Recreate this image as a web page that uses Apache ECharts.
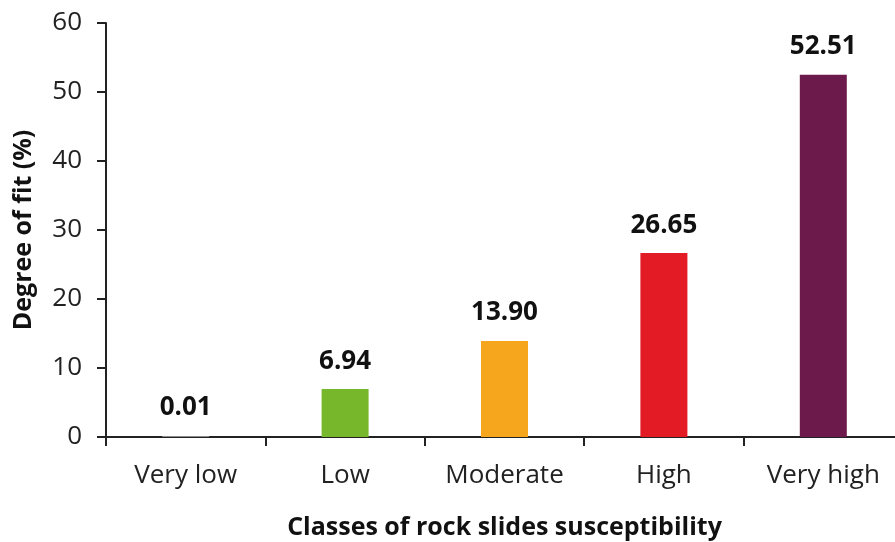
<!DOCTYPE html>
<html><head><meta charset="utf-8">
<script src="https://cdn.jsdelivr.net/npm/echarts@6/dist/echarts.min.js"></script>
<style>html,body{margin:0;padding:0;background:#fff}#c{width:895px;height:542px}</style>
</head><body><div id="c"></div>
<script>
const categories = ['Very low', 'Low', 'Moderate', 'High', 'Very high'];
const values = [0.01, 6.94, 13.90, 26.65, 52.51];
const colors = ['#8c8c8c', '#77b72c', '#f5a61c', '#e21b24', '#6c1a4c'];
const yTicks = [0, 10, 20, 30, 40, 50, 60];

const FONT = 'Open Sans';
const chart = echarts.init(document.getElementById('c'), null, {renderer: 'canvas'});
chart.setOption({
  animation: false,
  backgroundColor: '#fff',
  grid: {left: 106, width: 797, top: 23, height: 414, outerBoundsMode: 'none', containLabel: false},
  xAxis: {
    type: 'category',
    data: categories,
    name: 'Classes of rock slides susceptibility',
    nameLocation: 'middle',
    nameGap: 78,
    nameTextStyle: {fontFamily: FONT, fontWeight: 'bold', fontSize: 25, color: '#111'},
    axisLine: {lineStyle: {color: '#222', width: 2}},
    axisTick: {show: true, length: 9, lineStyle: {color: '#222', width: 2}, alignWithLabel: false},
    axisLabel: {fontFamily: FONT, fontSize: 26, color: '#222', margin: 26}
  },
  yAxis: {
    type: 'value',
    min: yTicks[0], max: yTicks[yTicks.length - 1], interval: 10,
    name: 'Degree of fit (%)',
    nameLocation: 'middle',
    nameGap: 70,
    nameRotate: 90,
    nameTextStyle: {fontFamily: FONT, fontWeight: 'bold', fontSize: 25, color: '#111'},
    axisLine: {show: true, lineStyle: {color: '#222', width: 2}},
    axisTick: {show: true, length: 9, lineStyle: {color: '#222', width: 2}},
    splitLine: {show: false},
    axisLabel: {fontFamily: FONT, fontSize: 26, color: '#222', margin: 24}
  },
  series: [{
    type: 'bar',
    barWidth: 47,
    barMinHeight: 1,
    data: values.map((v, i) => ({value: v, itemStyle: {color: colors[i]}})),
    label: {
      show: true, position: 'top', distance: 15,
      fontFamily: FONT, fontWeight: 'bold', fontSize: 26, color: '#111',
      formatter: p => p.value.toFixed(2)
    }
  }]
});
</script></body></html>
